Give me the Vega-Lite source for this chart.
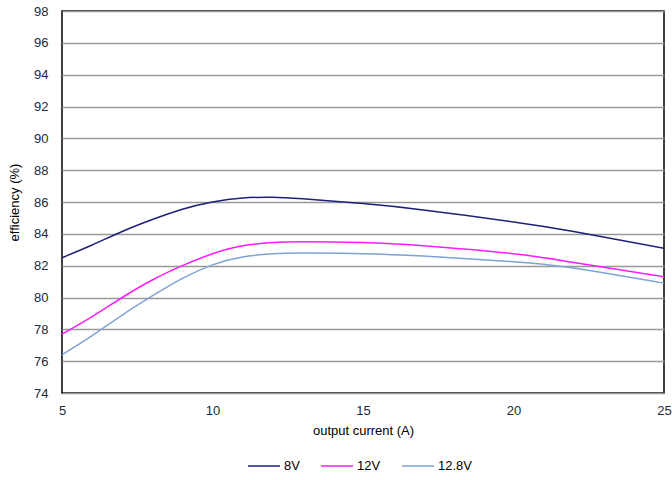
{
  "$schema": "https://vega.github.io/schema/vega-lite/v6.json",
  "width": 602,
  "height": 382,
  "autosize": {"type": "none"},
  "padding": {"left": 62, "top": 11, "right": 8, "bottom": 87},
  "background": "white",
  "config": {
    "font": "Liberation Sans",
    "view": {"stroke": "#000", "strokeWidth": 1.5},
    "axis": {"labelFont": "Liberation Sans", "titleFont": "Liberation Sans", "labelFontSize": 13, "titleFontSize": 13, "titleFontWeight": "normal", "labelColor": "#1a2a3a", "titleColor": "#000", "domain": false, "ticks": false}
  },
  "data": {"values": [
    {"x": 5, "y": 82.5, "s": "8V"}, {"x": 6, "y": 83.3, "s": "8V"}, {"x": 7, "y": 84.15, "s": "8V"}, {"x": 8, "y": 84.9, "s": "8V"}, {"x": 9, "y": 85.55, "s": "8V"}, {"x": 10, "y": 86.0, "s": "8V"}, {"x": 11, "y": 86.25, "s": "8V"}, {"x": 12, "y": 86.3, "s": "8V"}, {"x": 13, "y": 86.2, "s": "8V"}, {"x": 15, "y": 85.9, "s": "8V"}, {"x": 17, "y": 85.5, "s": "8V"}, {"x": 20, "y": 84.75, "s": "8V"}, {"x": 22, "y": 84.15, "s": "8V"}, {"x": 25, "y": 83.1, "s": "8V"},
    {"x": 5, "y": 77.7, "s": "12V"}, {"x": 6, "y": 78.8, "s": "12V"}, {"x": 7, "y": 80.0, "s": "12V"}, {"x": 8, "y": 81.1, "s": "12V"}, {"x": 9, "y": 82.0, "s": "12V"}, {"x": 10, "y": 82.75, "s": "12V"}, {"x": 11, "y": 83.25, "s": "12V"}, {"x": 12, "y": 83.45, "s": "12V"}, {"x": 13, "y": 83.5, "s": "12V"}, {"x": 15, "y": 83.45, "s": "12V"}, {"x": 17, "y": 83.25, "s": "12V"}, {"x": 20, "y": 82.75, "s": "12V"}, {"x": 22, "y": 82.2, "s": "12V"}, {"x": 25, "y": 81.3, "s": "12V"},
    {"x": 5, "y": 76.4, "s": "12.8V"}, {"x": 6, "y": 77.6, "s": "12.8V"}, {"x": 7, "y": 78.9, "s": "12.8V"}, {"x": 8, "y": 80.1, "s": "12.8V"}, {"x": 9, "y": 81.2, "s": "12.8V"}, {"x": 10, "y": 82.05, "s": "12.8V"}, {"x": 11, "y": 82.55, "s": "12.8V"}, {"x": 12, "y": 82.75, "s": "12.8V"}, {"x": 13, "y": 82.8, "s": "12.8V"}, {"x": 15, "y": 82.75, "s": "12.8V"}, {"x": 17, "y": 82.6, "s": "12.8V"}, {"x": 20, "y": 82.25, "s": "12.8V"}, {"x": 22, "y": 81.85, "s": "12.8V"}, {"x": 25, "y": 80.9, "s": "12.8V"}
  ]},
  "mark": {"type": "line", "interpolate": "natural", "strokeWidth": 1.5, "clip": true},
  "encoding": {
    "x": {"field": "x", "type": "quantitative", "scale": {"domain": [5, 25], "nice": false, "zero": false}, "axis": {"values": [5, 10, 15, 20, 25], "grid": false, "labelFlush": false, "labelPadding": 11, "title": "output current  (A)", "titlePadding": 7}},
    "y": {"field": "y", "type": "quantitative", "scale": {"domain": [74, 98], "nice": false, "zero": false}, "axis": {"values": [74, 76, 78, 80, 82, 84, 86, 88, 90, 92, 94, 96, 98], "grid": true, "gridColor": "#999", "gridWidth": 1.5, "labelPadding": 14, "title": "efficiency  (%)", "titlePadding": 12}},
    "color": {"field": "s", "type": "nominal", "scale": {"domain": ["8V", "12V", "12.8V"], "range": ["#1f1f7a", "#ff1aff", "#7fa3d3"]},
      "legend": {"title": null, "orient": "none", "legendX": 185, "legendY": 438, "direction": "horizontal", "gridAlign": "none", "symbolType": "stroke", "symbolSize": 1024, "symbolStrokeWidth": 1.5, "labelFontSize": 13, "labelFont": "Liberation Sans", "labelColor": "#000", "labelOffset": 3, "columnPadding": 18, "padding": 0}}
  }
}
